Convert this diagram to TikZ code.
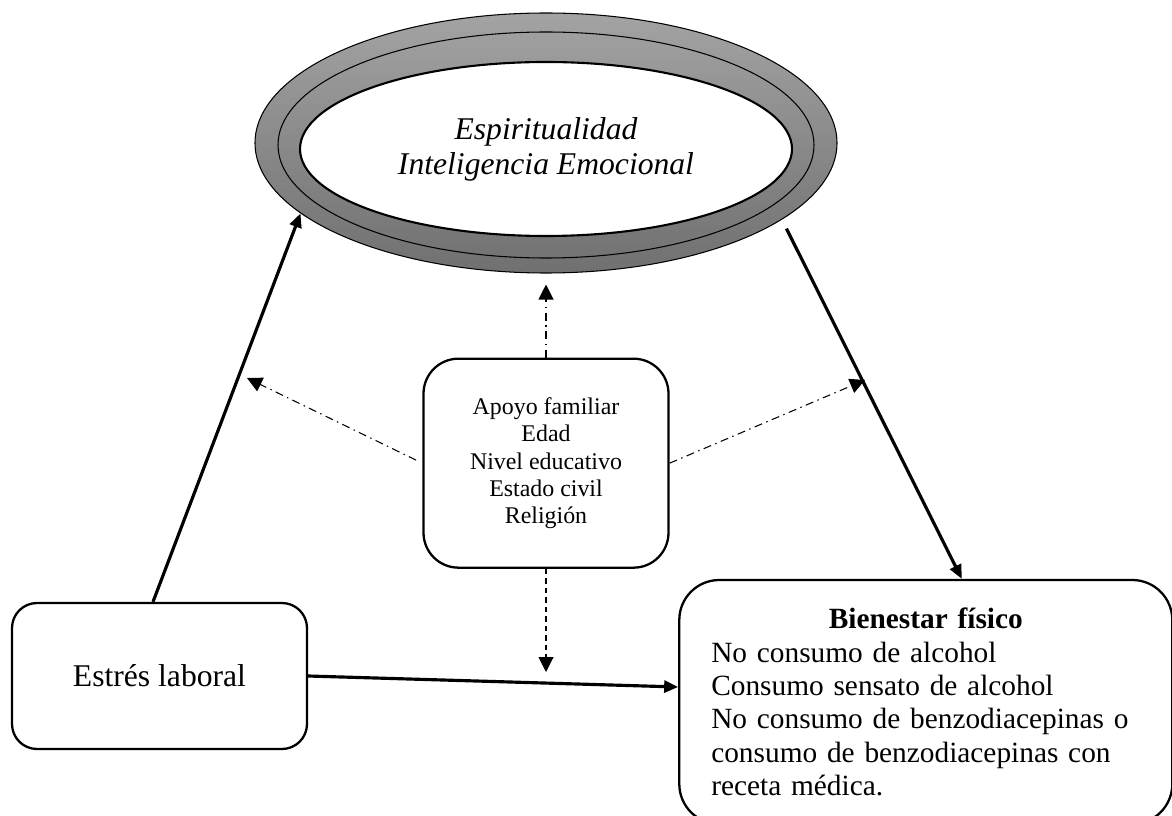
\documentclass[tikz,border=0pt]{standalone}
\usepackage{fontspec}
\setmainfont{Liberation Serif}
\usetikzlibrary{positioning,arrows.meta,shapes.geometric,calc}

\begin{document}
\begin{tikzpicture}[
        box/.style={draw, rounded corners=0.6cm, line width=1.3pt, align=center},
        flow/.style={-{Triangle[length=2.8mm, width=2.4mm]}, line width=1.8pt},
        modline/.style={-{Triangle[length=3mm, width=3mm]}, line width=0.6pt, dash pattern=on 1.6mm off 0.9mm on 0.3mm off 0.9mm},
        modlinedown/.style={modline, dash pattern=on 1.1mm off 0.8mm}
    ]
        \useasboundingbox (0,0) rectangle (23.44,16.3);

        % Ring around the core
        \node[ellipse, draw, line width=0.6pt, top color=black!36, bottom color=black!56, minimum width=11.64cm, minimum height=5.2cm, inner sep=0pt] (ring) at (10.92,13.44) {};
        \draw[line width=0.6pt] ([yshift=-0.04cm]ring.center) ellipse (5.36cm and 2.26cm);
        \node[ellipse, draw, fill=white, line width=1.2pt, minimum width=9.84cm, minimum height=3.48cm, inner sep=0pt, align=center, font=\fontsize{18}{20}\selectfont\itshape] (core) at ([yshift=-0.12cm]ring.center) {Espiritualidad\\Inteligencia Emocional};

        % Boxes
        \node[box, below=1.68cm of ring, minimum width=4.9cm, minimum height=4.18cm, rounded corners=0.7cm, font=\fontsize{13.6}{15.5}\selectfont] (mods) {Apoyo familiar\\Edad\\Nivel educativo\\Estado civil\\Religión};
        \node[box, minimum width=5.9cm, minimum height=2.92cm, rounded corners=0.5cm, font=\fontsize{18}{21}\selectfont] (stress) at (3.19,2.78) {Estrés laboral};
        \node[box, right=7.4cm of stress, yshift=-0.52cm, minimum width=9.86cm, minimum height=4.88cm, rounded corners=0.8cm, text width=8.58cm, inner xsep=0.64cm, align=left, font=\fontsize{16.7}{19}\selectfont] (health) {\makebox[8.58cm]{\textbf{Bienestar físico}}\\No consumo de alcohol\\Consumo sensato de alcohol\\No consumo de benzodiacepinas o\\consumo de benzodiacepinas con\\receta médica.};

        % Main paths
        \draw[flow] ([xshift=-0.13cm]stress.north) -- (ring.196);
        \draw[flow, shorten <=0.2cm] (ring.-18) -- ([xshift=0.72cm]health.north);
        \draw[flow] (stress.east) -- ([yshift=0.3cm]health.west);

        % Moderators
        \coordinate (tipL) at (4.94,8.74);
        \coordinate (tipR) at (17.3,8.7);
        \coordinate (tipD) at (10.92,2.86);
        \draw[modline] (mods.north) -- ([yshift=-0.22cm]ring.south);
        \draw[modline, shorten <=0.14cm] (mods.west) -- (tipL);
        \draw[modline] (mods.east) -- (tipR);
        \draw[modlinedown] (mods.south) -- (tipD);
    \end{tikzpicture}
\end{document}
